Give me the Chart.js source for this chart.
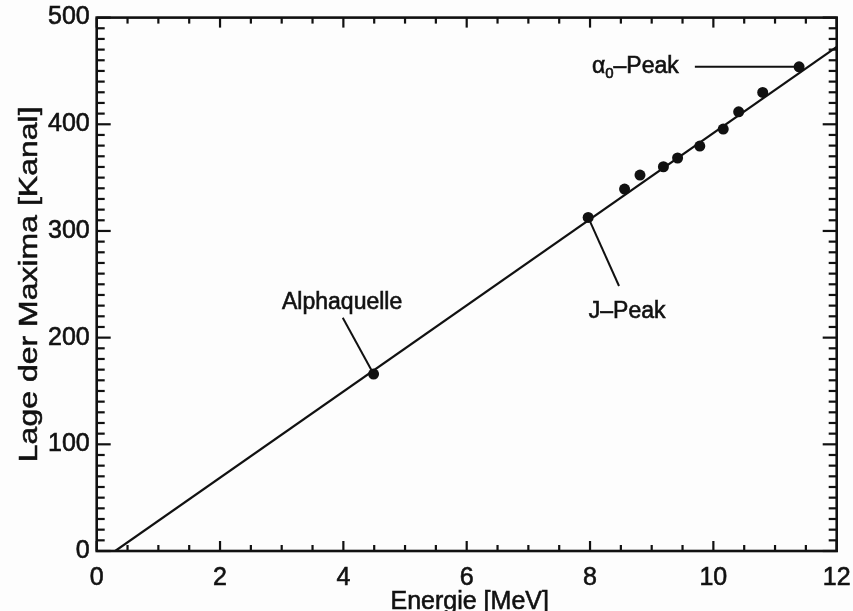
<!DOCTYPE html>
<html>
<head>
<meta charset="utf-8">
<script src="https://cdn.jsdelivr.net/npm/chart.js@4/dist/chart.umd.min.js"></script>
<style>
  html, body { margin: 0; padding: 0; background: #fdfdfd; }
  #wrap { width: 853px; height: 611px; }
</style>
</head>
<body>
<div id="wrap"><canvas id="c" width="853" height="611"></canvas></div>
<script>
// Measured peak positions: energy (MeV) and channel of the maximum
const energy  = [4.49, 7.97, 8.56, 8.81, 9.19, 9.42, 9.78, 10.16, 10.41, 10.80, 11.39];
const channel = [165.9, 312.7, 339.3, 352.4, 360.2, 368.4, 379.6, 395.5, 411.7, 429.9, 453.9];

// Linear calibration line (end points)
const fitEnergy  = [0.30, 12];
const fitChannel = [0, 472.6];

// Axis tick labels
const xTickLabels = [0, 2, 4, 6, 8, 10, 12];
const yTickLabels = [0, 100, 200, 300, 400, 500];

// Labelled peaks: index into the data arrays
const peakNames   = ['Alphaquelle', 'J\u2013Peak', '\u03B1'];
const peakIndices = [0, 1, 10];

const FONT = "'Liberation Sans', Arial, Helvetica, sans-serif";
const INK = '#111111';

// text with a thin outline so the glyphs look as heavy as the printed ones
function inkText(ctx, s, x, y) {
  ctx.fillText(s, x, y);
  ctx.strokeText(s, x, y);
}

const framePlugin = {
  id: 'frame',
  beforeDraw(chart) {
    const ctx = chart.ctx;
    ctx.save();
    ctx.fillStyle = '#fdfdfd';
    ctx.fillRect(0, 0, chart.width, chart.height);
    ctx.restore();
  },
  afterDraw(chart) {
    const ctx = chart.ctx;
    const xs = chart.scales.x, ys = chart.scales.y;
    const a = chart.chartArea;
    ctx.save();
    ctx.strokeStyle = INK;
    ctx.fillStyle = INK;

    // inward minor/major ticks on all four sides, drawn as small filled bars
    const tw = 2.2;
    for (let k = 0; k <= 50; k++) {
      const y = ys.getPixelForValue(k * 10);
      const len = (k % 10 === 0) ? 14 : 8;
      ctx.fillRect(a.left, y - tw / 2, len, tw);
      ctx.fillRect(a.right - len, y - tw / 2, len, tw);
    }
    for (let k = 0; k <= 24; k++) {
      const x = xs.getPixelForValue(k * 0.5);
      const len = (k % 4 === 0) ? 10 : 6;
      ctx.fillRect(x - tw / 2, a.bottom - len, tw, len);
      ctx.fillRect(x - tw / 2, a.top, tw, len);
    }

    // frame
    ctx.lineWidth = 2.6;
    ctx.strokeRect(a.left, a.top, a.right - a.left, a.bottom - a.top);

    // leader lines and peak labels
    const px = i => xs.getPixelForValue(energy[i]);
    const py = i => ys.getPixelForValue(channel[i]);
    ctx.lineWidth = 2;

    // Alphaquelle
    ctx.beginPath();
    ctx.moveTo(xs.getPixelForValue(3.99), ys.getPixelForValue(218.7));
    ctx.lineTo(px(peakIndices[0]), py(peakIndices[0]));
    ctx.stroke();
    // J-Peak
    ctx.beginPath();
    ctx.moveTo(px(peakIndices[1]), py(peakIndices[1]));
    ctx.lineTo(xs.getPixelForValue(8.47), ys.getPixelForValue(248.4));
    ctx.stroke();
    // alpha_0-Peak
    const ya = py(peakIndices[2]);
    ctx.beginPath();
    ctx.moveTo(xs.getPixelForValue(9.70), ya);
    ctx.lineTo(px(peakIndices[2]), ya);
    ctx.stroke();

    ctx.lineWidth = 0.6;
    ctx.font = '23px ' + FONT;
    ctx.textAlign = 'center'; ctx.textBaseline = 'middle';
    inkText(ctx, peakNames[0], xs.getPixelForValue(3.98), ys.getPixelForValue(232.5));
    ctx.textAlign = 'left';
    inkText(ctx, peakNames[1], xs.getPixelForValue(7.98), ys.getPixelForValue(224.3));

    let x0 = xs.getPixelForValue(8.03);
    inkText(ctx, peakNames[2], x0, ya);
    x0 += ctx.measureText(peakNames[2]).width;
    ctx.font = '15px ' + FONT;
    inkText(ctx, '0', x0, ya + 7);
    x0 += ctx.measureText('0').width;
    ctx.font = '23px ' + FONT;
    inkText(ctx, '\u2013Peak', x0, ya);

    // axis titles
    ctx.font = '25px ' + FONT;
    ctx.textAlign = 'center'; ctx.textBaseline = 'middle';
    inkText(ctx, 'Energie [MeV]', (a.left + a.right) / 2 + 3, 602);
    ctx.translate(30, (a.top + a.bottom) / 2);
    ctx.rotate(-Math.PI / 2);
    ctx.scale(1.28, 1);
    ctx.lineWidth = 0.5;
    inkText(ctx, 'Lage der Maxima [Kanal]', 0, 0);
    ctx.restore();
  }
};

new Chart(document.getElementById('c'), {
  type: 'scatter',
  data: {
    datasets: [
      {
        label: 'Kalibrierung',
        data: fitEnergy.map((e, k) => ({ x: e, y: fitChannel[k] })),
        showLine: true,
        borderColor: INK,
        borderWidth: 2.2,
        pointRadius: 0,
        fill: false
      },
      {
        label: 'Maxima',
        data: energy.map((e, k) => ({ x: e, y: channel[k] })),
        showLine: false,
        pointRadius: 5.5,
        pointBackgroundColor: INK,
        pointBorderColor: INK,
        pointBorderWidth: 0
      }
    ]
  },
  options: {
    responsive: false,
    animation: false,
    devicePixelRatio: 1,
    layout: { padding: { top: 17.6, right: 16.3, left: 0, bottom: 0 } },
    plugins: { legend: { display: false }, tooltip: { enabled: false } },
    scales: {
      x: {
        type: 'linear', min: 0, max: 12,
        afterFit(s) { s.height = 60; s.paddingLeft = 0; s.paddingRight = 0; },
        afterBuildTicks(s) { s.ticks = xTickLabels.map(v => ({ value: v })); },
        grid: { display: false, drawTicks: false },
        border: { display: false },
        ticks: {
          color: INK, font: { family: FONT, size: 25 }, padding: 12, maxRotation: 0,
          textStrokeColor: INK, textStrokeWidth: 0.6
        }
      },
      y: {
        type: 'linear', min: 0, max: 500,
        afterFit(s) { s.width = 96.7; s.paddingTop = 0; s.paddingBottom = 0; },
        afterBuildTicks(s) { s.ticks = yTickLabels.map(v => ({ value: v })); },
        grid: { display: false, drawTicks: false },
        border: { display: false },
        ticks: {
          color: INK, font: { family: FONT, size: 25 }, padding: 7,
          textStrokeColor: INK, textStrokeWidth: 0.6
        }
      }
    }
  },
  plugins: [framePlugin]
});
</script>
</body>
</html>
